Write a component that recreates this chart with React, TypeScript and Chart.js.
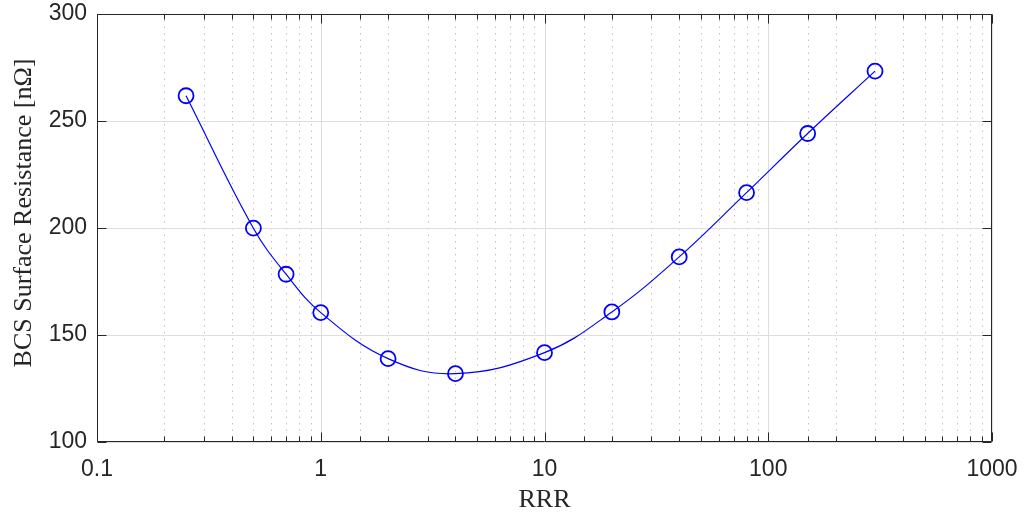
import { useEffect, useRef } from "react";
import { Chart, registerables } from "chart.js";

Chart.register(...registerables);

// ---- data ----
const rrrValues = [0.25, 0.5, 0.7, 1, 2, 4, 10, 20, 40, 80, 150, 300];
const resistanceValues = [261.6, 199.8, 178.3, 160.4, 138.9, 131.9, 141.7, 160.7, 186.4, 216.4, 244.0, 273.1];
const xTickLabels = ["0.1", "1", "10", "100", "1000"];
const yTickValues = [100, 150, 200, 250, 300];
const xTitle = "RRR";
const yTitle = "BCS Surface Resistance [nΩ]";

const TEXT = "#262626";
const isDecade = (v: number) => Math.abs(Math.log10(v) - Math.round(Math.log10(v))) < 1e-9;

const matlabPlugin = {
  id: "matlabFrame",
  beforeDatasetsDraw(chart: any) {
    const { ctx, chartArea: a, scales } = chart;
    const x = scales.x;
    const y = scales.y;
    ctx.save();
    ctx.lineWidth = 1;
    // minor dotted grid
    ctx.strokeStyle = "#c2c2c2";
    ctx.setLineDash([1.5, 5]);
    x.ticks.forEach((t: any) => {
      if (!isDecade(t.value)) {
        const px = Math.round(x.getPixelForValue(t.value)) + 0.5;
        ctx.beginPath();
        ctx.moveTo(px, a.top);
        ctx.lineTo(px, a.bottom);
        ctx.stroke();
      }
    });
    ctx.setLineDash([]);
    // major grid
    ctx.strokeStyle = "#dedede";
    x.ticks.forEach((t: any) => {
      if (isDecade(t.value)) {
        const px = Math.round(x.getPixelForValue(t.value)) + 0.5;
        ctx.beginPath();
        ctx.moveTo(px, a.top);
        ctx.lineTo(px, a.bottom);
        ctx.stroke();
      }
    });
    yTickValues.forEach((v) => {
      const py = Math.round(y.getPixelForValue(v)) + 0.5;
      ctx.beginPath();
      ctx.moveTo(a.left, py);
      ctx.lineTo(a.right, py);
      ctx.stroke();
    });
    ctx.restore();
  },
  afterDatasetsDraw(chart: any) {
    const { ctx, chartArea: a, scales } = chart;
    const x = scales.x;
    const y = scales.y;
    ctx.save();
    ctx.strokeStyle = TEXT;
    ctx.lineWidth = 1;
    const L = Math.round(a.left) + 0.5;
    const R = Math.round(a.right) - 0.5;
    const T = Math.round(a.top) + 0.5;
    const B = Math.round(a.bottom) - 0.5;
    ctx.beginPath();
    ctx.rect(L, T, R - L, B - T);
    ctx.stroke();
    // x ticks (inward, bottom and top)
    x.ticks.forEach((t: any) => {
      const px = Math.round(x.getPixelForValue(t.value)) + 0.5;
      const len = isDecade(t.value) ? 9 : 5;
      ctx.beginPath();
      ctx.moveTo(px, B);
      ctx.lineTo(px, B - len);
      ctx.moveTo(px, T);
      ctx.lineTo(px, T + len);
      ctx.stroke();
    });
    // y ticks (inward, left and right)
    yTickValues.forEach((v) => {
      const py = Math.round(y.getPixelForValue(v)) + 0.5;
      ctx.beginPath();
      ctx.moveTo(L, py);
      ctx.lineTo(L + 9, py);
      ctx.moveTo(R, py);
      ctx.lineTo(R - 9, py);
      ctx.stroke();
    });
    // titles
    ctx.fillStyle = TEXT;
    ctx.font = "26px 'Liberation Serif', serif";
    ctx.textAlign = "center";
    ctx.textBaseline = "alphabetic";
    ctx.fillText(xTitle, (a.left + a.right) / 2, 507);
    ctx.translate(31, 213);
    ctx.rotate(-Math.PI / 2);
    ctx.fillText(yTitle, 0, 0);
    ctx.restore();
  },
};

export default function App() {
  const canvasRef = useRef<HTMLCanvasElement | null>(null);

  useEffect(() => {
    const canvas = canvasRef.current;
    if (!canvas) return;
    const data = rrrValues.map((v, i) => ({ x: v, y: resistanceValues[i] }));
    const chart = new Chart(canvas, {
      type: "line",
      data: {
        datasets: [
          {
            data,
            borderColor: "#0000ff",
            borderWidth: 1.2,
            tension: 0.4,
            pointRadius: 7.5,
            pointBorderWidth: 1.8,
            pointBorderColor: "#0000ff",
            pointBackgroundColor: "rgba(0,0,0,0)",
            pointStyle: "circle",
          },
        ],
      },
      options: {
        animation: false,
        responsive: false,
        layout: { padding: { top: 13.5, right: 34, left: 0, bottom: 0 } },
        plugins: { legend: { display: false }, tooltip: { enabled: false } },
        scales: {
          x: {
            type: "logarithmic",
            min: 0.1,
            max: 1000,
            grid: { display: false, drawTicks: false },
            border: { display: false },
            ticks: {
              autoSkip: false,
              maxRotation: 0,
              padding: 14,
              color: TEXT,
              font: { family: "'Liberation Sans', Arial, sans-serif", size: 23 },
              callback: (value: any) => {
                const v = Number(value);
                if (!isDecade(v)) return "";
                return xTickLabels[Math.round(Math.log10(v)) + 1] ?? "";
              },
            },
            afterFit: (scale: any) => {
              scale.height = 70;
              scale.paddingLeft = 0;
              scale.paddingRight = 0;
            },
          },
          y: {
            type: "linear",
            min: 100,
            max: 300,
            grid: { display: false, drawTicks: false },
            border: { display: false },
            ticks: {
              stepSize: 50,
              padding: 10,
              color: TEXT,
              font: { family: "'Liberation Sans', Arial, sans-serif", size: 23 },
              callback: (value: any) => String(value),
            },
            afterFit: (scale: any) => {
              scale.width = 97;
              scale.paddingTop = 0;
              scale.paddingBottom = 0;
            },
          },
        },
      },
      plugins: [matlabPlugin],
    });
    return () => chart.destroy();
  }, []);

  return (
    <div style={{ position: "absolute", left: 0, top: 0, width: 1026, height: 512, background: "#fff" }}>
      <canvas ref={canvasRef} width={1026} height={512} style={{ display: "block" }} />
    </div>
  );
}
